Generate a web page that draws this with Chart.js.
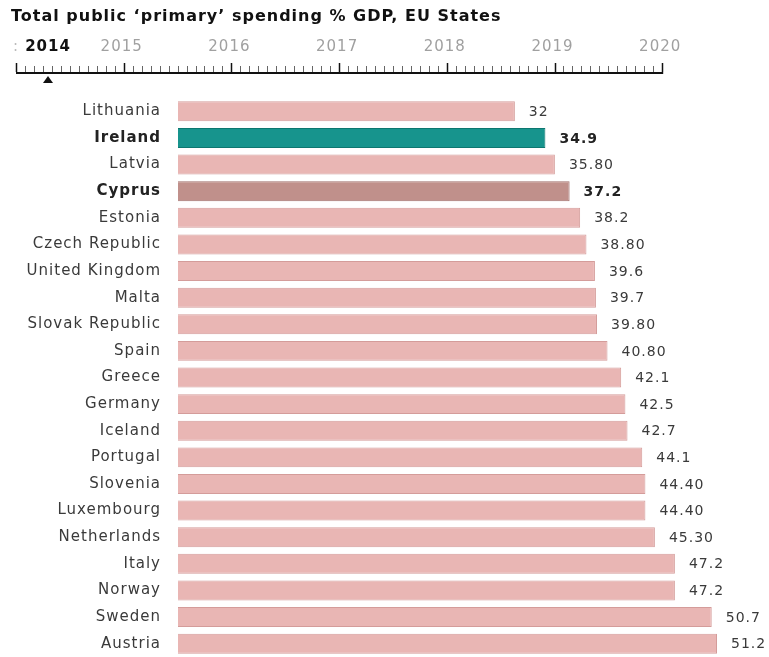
<!DOCTYPE html>
<html>
<head>
<meta charset="utf-8">
<script src="https://cdn.jsdelivr.net/npm/chart.js@4"></script>
<style>
  body { margin: 0; background: #fff; }
  canvas { display: block; }
</style>
</head>
<body>
<canvas id="myChart" width="769" height="657"></canvas>
<script>
// data
var countries = ['Lithuania', 'Ireland', 'Latvia', 'Cyprus', 'Estonia', 'Czech Republic',
    'United Kingdom', 'Malta', 'Slovak Republic', 'Spain', 'Greece', 'Germany', 'Iceland',
    'Portugal', 'Slovenia', 'Luxembourg', 'Netherlands', 'Italy', 'Norway', 'Sweden', 'Austria']
var values = [32, 34.9, 35.8, 37.2, 38.2, 38.8, 39.6, 39.7, 39.8, 40.8, 42.1, 42.5, 42.7,
    44.1, 44.4, 44.4, 45.3, 47.2, 47.2, 50.7, 51.2]
var valueLabels = ['32', '34.9', '35.80', '37.2', '38.2', '38.80', '39.6', '39.7', '39.80', '40.80',
    '42.1', '42.5', '42.7', '44.1', '44.40', '44.40', '45.30', '47.2', '47.2', '50.7', '51.2']
var highlighted = ['Ireland', 'Cyprus']
var years = ['2014', '2015', '2016', '2017', '2018', '2019', '2020']
var selectedYear = '2014'
var title = 'Total public \u2018primary\u2019 spending % GDP, EU States'

var FONT = '"DejaVu Sans", Verdana, sans-serif'

function fillFor(name) {
    if (name == 'Ireland') return '#17948d'
    if (name == 'Cyprus') return '#c0908b'
    return '#e9b6b4'
}
function borderFor(name) {
    if (name == 'Ireland') return '#0d7770'
    if (name == 'Cyprus') return '#a06f6b'
    return '#d49c9a'
}

// the original text is set wide, spread the letters a bit
var spacingPlugin = {
    id: 'spacing',
    beforeDraw(chart) {
        chart.ctx.letterSpacing = '1px'
    }
}

// title and year slider above the bars
var headerPlugin = {
    id: 'header',
    afterDraw(chart) {
        var ctx = chart.ctx
        ctx.save()
        ctx.letterSpacing = '1px'
        ctx.fillStyle = '#111'
        ctx.font = 'bold 16px ' + FONT
        ctx.textBaseline = 'middle'
        ctx.textAlign = 'left'
        ctx.fillText(title, 11, 17)

        var x0 = 16, step = 107.7, lineY = 72
        // axis line
        ctx.fillStyle = '#111'
        ctx.fillRect(x0, lineY, step * (years.length - 1) + 1, 2)
        // month ticks
        for (var i = 0; i <= (years.length - 1) * 12; i++) {
            var x = Math.round(x0 + i * step / 12) + 0.5
            var major = i % 12 == 0
            ctx.strokeStyle = major ? '#111' : '#666'
            ctx.lineWidth = major ? 1.5 : 1
            ctx.beginPath()
            ctx.moveTo(x, major ? 63 : 66)
            ctx.lineTo(x, lineY)
            ctx.stroke()
        }
        // year labels
        ctx.textAlign = 'center'
        years.forEach((y, i) => {
            if (y == selectedYear) {
                ctx.font = 'bold 15px ' + FONT
                ctx.fillStyle = '#111'
                ctx.fillText(y, 48, 47)
            } else {
                ctx.font = '15px ' + FONT
                ctx.fillStyle = '#a0a0a0'
                ctx.fillText(y, x0 + i * step - 2, 47)
            }
        })
        ctx.font = '15px ' + FONT
        ctx.fillStyle = '#bbb'
        ctx.fillText(':', 16, 47)
        // selected marker
        ctx.fillStyle = '#111'
        ctx.beginPath()
        ctx.moveTo(48, 76)
        ctx.lineTo(53, 83)
        ctx.lineTo(43, 83)
        ctx.closePath()
        ctx.fill()
        ctx.restore()
    }
}

// value labels to the right of each bar
var valuePlugin = {
    id: 'values',
    afterDatasetsDraw(chart) {
        var ctx = chart.ctx
        var meta = chart.getDatasetMeta(0)
        ctx.save()
        ctx.letterSpacing = '1px'
        ctx.textBaseline = 'middle'
        ctx.textAlign = 'left'
        meta.data.forEach((bar, i) => {
            var bold = highlighted.includes(countries[i])
            ctx.font = (bold ? 'bold ' : '') + '14px ' + FONT
            ctx.fillStyle = bold ? '#222' : '#3a3a3a'
            ctx.fillText(valueLabels[i], bar.x + 14, bar.y + 1)
        })
        ctx.restore()
    }
}

const ctx = document.getElementById('myChart')

new Chart(ctx, {
    type: 'bar',
    data: {
        labels: countries,
        datasets: [{
            label: '% GDP',
            data: values,
            backgroundColor: countries.map(fillFor),
            borderColor: countries.map(borderFor),
            borderWidth: 1,
            barPercentage: 0.75,
            categoryPercentage: 1
        }]
    },
    options: {
        indexAxis: 'y',
        responsive: false,
        animation: false,
        layout: { padding: { top: 98, bottom: 0, left: 0, right: 12 } },
        plugins: {
            legend: { display: false },
            tooltip: { enabled: false }
        },
        scales: {
            x: {
                min: 0,
                max: 55,
                display: false
            },
            y: {
                grid: { display: false, drawTicks: false },
                border: { display: false },
                afterFit(scale) {
                    scale.width = 178
                    // bars run to the bottom edge, no room kept for half labels
                    scale.paddingTop = 0
                    scale.paddingBottom = 0
                },
                ticks: {
                    padding: 17,
                    autoSkip: false,
                    color: ctx => highlighted.includes(countries[ctx.index]) ? '#222' : '#3a3a3a',
                    font: ctx => ({
                        family: FONT,
                        size: 15,
                        weight: highlighted.includes(countries[ctx.index]) ? 'bold' : 'normal'
                    })
                }
            }
        }
    },
    plugins: [spacingPlugin, headerPlugin, valuePlugin]
});
</script>
</body>
</html>
